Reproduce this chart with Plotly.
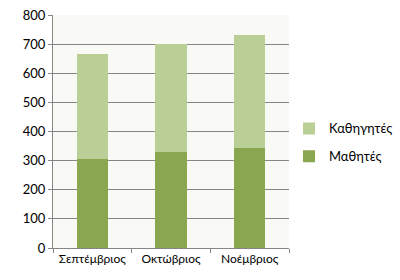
import plotly.graph_objects as go

categories = ["Σεπτέμβριος", "Οκτώβριος", "Νοέμβριος"]
mathites = [305, 330, 345]
kathigites = [360, 370, 385]

fig = go.Figure()
fig.add_trace(go.Bar(x=categories, y=mathites, name="Μαθητές", legendgroup="a", legendrank=2,
                     marker=dict(color="#8AA64F", line=dict(width=0)), width=0.4))
fig.add_trace(go.Bar(x=categories, y=kathigites, name="Καθηγητές", legendgroup="b", legendrank=1,
                     marker=dict(color="#B9CF96", line=dict(width=0)), width=0.4))

font = dict(family="Lato, Noto Sans, sans-serif", size=12, color="#000000")
fig.update_layout(
    barmode="stack",
    width=400, height=280,
    margin=dict(l=53, r=111, t=15, b=32, autoexpand=False),
    paper_bgcolor="white",
    plot_bgcolor="#F9FAF5",
    font=font,
    showlegend=True,
    legend=dict(x=1.0, y=0.453, xanchor="left", yanchor="middle",
                traceorder="grouped", font=dict(size=13),
                itemwidth=30, tracegroupgap=8, bgcolor="rgba(0,0,0,0)"),
    xaxis=dict(type="category", tickson="boundaries", ticks="outside", ticklen=4,
               tickcolor="#868686", showline=True, linecolor="#868686", linewidth=1,
               showgrid=False, tickangle=0, automargin=False, tickfont=dict(size=12)),
    yaxis=dict(range=[0, 800], dtick=100, ticks="outside", ticklen=4,
               tickcolor="#868686", showline=True, linecolor="#868686", linewidth=1,
               showgrid=True, gridcolor="#868686", gridwidth=1, zeroline=False,
               automargin=False, tickfont=dict(size=13)),
)
fig.write_html("out.html")
